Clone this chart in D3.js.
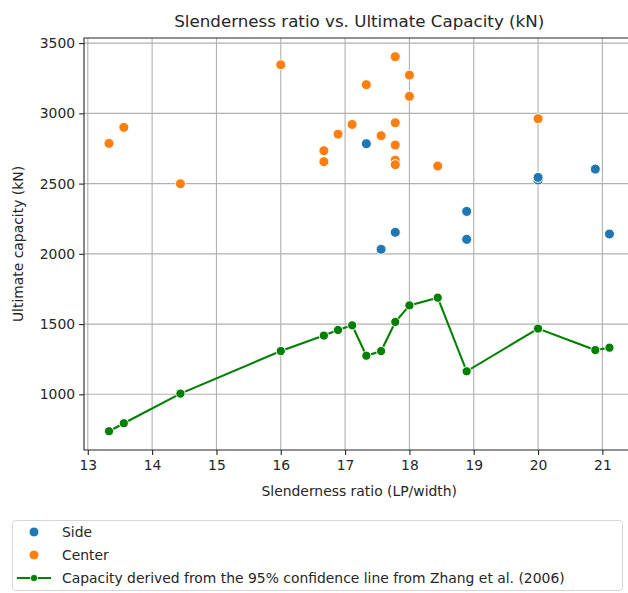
<!DOCTYPE html>
<html>
<head>
<meta charset="utf-8">
<script src="https://cdn.jsdelivr.net/npm/d3@7"></script>
<style>
  body { margin: 0; background: #fff; }
  text { font-family: "DejaVu Sans", sans-serif; fill: #262626; }
</style>
</head>
<body>
<svg width="628" height="593"></svg>
<script>
// slenderness ratio (LP/width) and ultimate capacity (kN) per specimen
var sideX = [17.33, 20.89, 20.0, 20.0, 18.89, 17.78, 18.89, 21.11, 17.56];
var sideY = [2784, 2603, 2525, 2544, 2302, 2153, 2103, 2141, 2032];

var centerX = [13.33, 13.56, 14.44, 16.0, 16.67, 16.67, 16.89, 17.11, 17.78, 18.0,
               17.33, 18.0, 17.78, 17.56, 17.78, 17.78, 17.78, 18.44, 20.0];
var centerY = [2786, 2900, 2499, 3346, 2734, 2656, 2852, 2921, 3403, 3272,
               3204, 3121, 2933, 2841, 2774, 2667, 2635, 2625, 2962];

// capacity from the 95% confidence line (Zhang et al. 2006)
var zhangX = [13.33, 13.56, 14.44, 16.0, 16.67, 16.89, 17.11, 17.33, 17.56, 17.78,
              18.0, 18.44, 18.89, 20.0, 20.89, 21.11];
var zhangY = [737, 794, 1005, 1308, 1418, 1458, 1491, 1275, 1308, 1515,
              1633, 1688, 1164, 1468, 1315, 1332];

var xTicks = [13, 14, 15, 16, 17, 18, 19, 20, 21];
var yTicks = [1000, 1500, 2000, 2500, 3000, 3500];

var legendLabels = ['Side', 'Center',
  'Capacity derived from the 95% confidence line from Zhang et al. (2006)'];

var blue = '#1f77b4', orange = '#ff7f0e', green = '#008000';

var plotL = 84, plotR = 634.5, plotT = 38, plotB = 450;

// 5% padding either side like matplotlib autoscaling
function padded(vals) {
    var ext = d3.extent(vals), r = ext[1] - ext[0];
    return [ext[0] - 0.05 * r, ext[1] + 0.05 * r];
}
var allX = sideX.concat(centerX, zhangX);
var allY = sideY.concat(centerY, zhangY);

var scaleX = d3.scaleLinear().domain(padded(allX)).range([plotL, plotR]);
var scaleY = d3.scaleLinear().domain(padded(allY)).range([plotB, plotT]);

var svg = d3.select('svg');

svg.append('defs').append('clipPath').attr('id', 'plot')
    .append('rect')
    .attr('x', plotL).attr('y', plotT)
    .attr('width', plotR - plotL).attr('height', plotB - plotT);

// grid
var grid = svg.append('g').attr('clip-path', 'url(#plot)');
grid.selectAll('.gx').data(xTicks).enter().append('line')
    .attr('x1', function (d) { return scaleX(d); })
    .attr('x2', function (d) { return scaleX(d); })
    .attr('y1', plotT).attr('y2', plotB)
    .attr('stroke', '#b0b0b0').attr('stroke-width', 1.1);
grid.selectAll('.gy').data(yTicks).enter().append('line')
    .attr('y1', function (d) { return scaleY(d); })
    .attr('y2', function (d) { return scaleY(d); })
    .attr('x1', plotL).attr('x2', plotR)
    .attr('stroke', '#b0b0b0').attr('stroke-width', 1.1);

var marks = svg.append('g').attr('clip-path', 'url(#plot)');

function dots(xs, ys, colour, r) {
    marks.append('g').selectAll('circle')
        .data(d3.range(xs.length))
        .enter()
        .append('circle')
        .attr('cx', function (i) { return scaleX(xs[i]); })
        .attr('cy', function (i) { return scaleY(ys[i]); })
        .attr('r', r)
        .attr('fill', colour)
        .attr('stroke', '#fff')
        .attr('stroke-width', 1);
}

dots(sideX, sideY, blue, 5);
dots(centerX, centerY, orange, 5);

var line = d3.line()
    .x(function (i) { return scaleX(zhangX[i]); })
    .y(function (i) { return scaleY(zhangY[i]); });

marks.append('path')
    .attr('d', line(d3.range(zhangX.length)))
    .attr('fill', 'none')
    .attr('stroke', green)
    .attr('stroke-width', 2.1);
dots(zhangX, zhangY, green, 4.6);

// axes
var axX = svg.append('g')
    .attr('transform', 'translate(0,' + plotB + ')')
    .call(d3.axisBottom(scaleX).tickValues(xTicks).tickSize(4.9).tickPadding(5));
var axY = svg.append('g')
    .attr('transform', 'translate(' + plotL + ',0)')
    .call(d3.axisLeft(scaleY).tickValues(yTicks).tickSize(4.9).tickPadding(4)
        .tickFormat(d3.format('d')));

[axX, axY].forEach(function (ax) {
    ax.selectAll('text').attr('font-size', 13.9)
        .attr('font-family', '"DejaVu Sans", sans-serif').attr('fill', '#262626');
    ax.selectAll('line').attr('stroke', '#262626').attr('stroke-width', 1.1);
    ax.select('.domain').remove();
});

// spines (right one falls outside the page)
svg.append('path')
    .attr('d', 'M' + plotR + ',' + plotT + 'H' + plotL + 'V' + plotB + 'H' + plotR)
    .attr('fill', 'none').attr('stroke', '#262626').attr('stroke-width', 1.1);

svg.append('text')
    .attr('x', (plotL + plotR) / 2).attr('y', 27)
    .attr('text-anchor', 'middle').attr('font-size', 16.7)
    .text('Slenderness ratio vs. Ultimate Capacity (kN)');

svg.append('text')
    .attr('x', (plotL + plotR) / 2).attr('y', 496)
    .attr('text-anchor', 'middle').attr('font-size', 13.9)
    .text('Slenderness ratio (LP/width)');

svg.append('text')
    .attr('transform', 'rotate(270)')
    .attr('x', -(plotT + plotB) / 2).attr('y', 23)
    .attr('text-anchor', 'middle').attr('font-size', 13.9)
    .text('Ultimate capacity (kN)');

// legend
var leg = svg.append('g');
leg.append('rect')
    .attr('x', 12.5).attr('y', 520.5).attr('width', 610).attr('height', 70)
    .attr('rx', 3).attr('fill', '#fff').attr('fill-opacity', 0.8)
    .attr('stroke', '#d6d6d6').attr('stroke-width', 1);

var rows = [537, 560, 583];
var legColours = [blue, orange, green];
legendLabels.forEach(function (label, i) {
    var y = rows[i] - 5;
    if (i === 2) {
        leg.append('line')
            .attr('x1', 17).attr('x2', 51).attr('y1', y).attr('y2', y)
            .attr('stroke', green).attr('stroke-width', 2.1);
    }
    leg.append('circle')
        .attr('cx', 34).attr('cy', y).attr('r', i === 2 ? 3.6 : 5)
        .attr('fill', legColours[i])
        .attr('stroke', '#fff').attr('stroke-width', i === 2 ? 0.8 : 1);
    leg.append('text')
        .attr('x', 62).attr('y', rows[i])
        .attr('font-size', 13.9)
        .text(label);
});
</script>
</body>
</html>
